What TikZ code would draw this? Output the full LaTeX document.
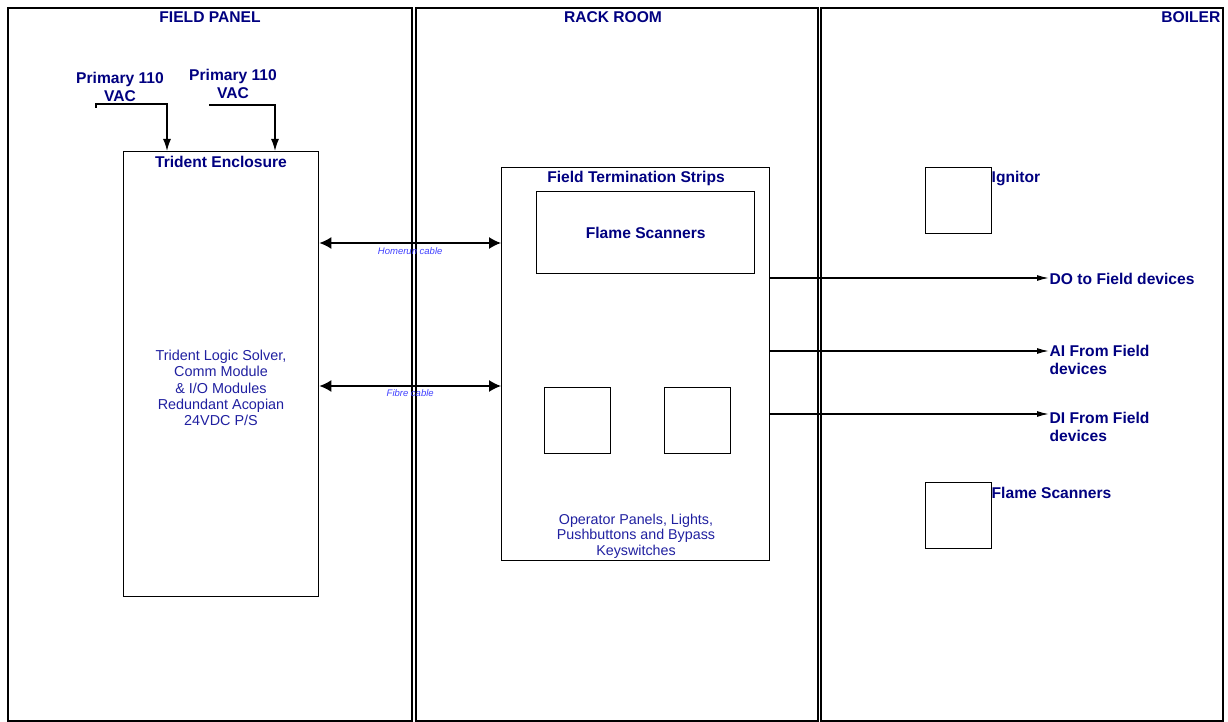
\documentclass[tikz,border=0pt]{standalone}
\usepackage{fontspec}
\setmainfont{Liberation Sans}
\usetikzlibrary{arrows.meta}
\definecolor{navy}{RGB}{0,0,128}
\definecolor{bodyblue}{RGB}{32,32,160}
\definecolor{cableblue}{RGB}{64,64,255}
\tikzset{
  panelbox/.style={draw,line width=1.6pt,anchor=north west,inner sep=0pt},
  unitbox/.style={draw,line width=1.4pt,anchor=north west,inner sep=0pt},
  heading/.style={text=navy,font=\fontsize{15.6}{18.5}\selectfont\bfseries,inner sep=0pt},
  bodytext/.style={text=bodyblue,font=\fontsize{14.4}{16.2}\selectfont,align=center,inner sep=0pt},
  cabletext/.style={text=cableblue,font=\fontsize{9.5}{11}\selectfont\itshape,inner sep=0pt},
  feedarrow/.style={-{Latex[length=12pt,width=8pt]}},
  cablearrow/.style={{Latex[length=12pt,width=12pt]}-{Latex[length=12pt,width=12pt]}},
  signalarrow/.style={-{Latex[length=12pt,width=6pt]}}
}
\begin{document}
\begin{tikzpicture}[x=1pt,y=-1pt,line width=1.4pt]
\useasboundingbox (0,0) rectangle (1228,722);
% three areas
\node[panelbox,minimum width=404pt,minimum height=713pt] (field) at (7,7) {};
\node[panelbox,minimum width=402pt,minimum height=713pt] (rack) at (415,7) {};
\node[panelbox,minimum width=402pt,minimum height=713pt] (boiler) at (820,7) {};
\node[heading] (fieldT) at (210,17) {FIELD PANEL};
\node[heading] (rackT) at (613,17) {RACK ROOM};
\node[heading,anchor=east] (boilerT) at (1221,17) {BOILER};

% field panel: enclosure and power feeds
\node[unitbox,minimum width=195pt,minimum height=445pt] (TE) at (123,151) {};
\node[heading] (TEtitle) at (221,162) {Trident Enclosure};
\node[bodytext] (TEbody) at (221,388)
  {Trident Logic Solver,\\Comm Module\\\& I/O Modules\\Redundant Acopian\\24VDC P/S};
\node[heading,align=center] (pri1) at (120,87) {Primary 110\\VAC};
\node[heading,align=center] (pri2) at (233,84) {Primary 110\\VAC};
\coordinate (feed1) at (167,104);
\coordinate (feed2) at (275,105);
\draw[feedarrow] (96,108) -- (96,104) -- (feed1) -- (feed1 |- TE.north);
\draw[feedarrow] (209,105) -- (feed2) -- (feed2 |- TE.north);

% rack room: termination strips
\node[unitbox,minimum width=268pt,minimum height=393pt] (FTS) at (501,167) {};
\node[heading] (FTStitle) at (636,178) {Field Termination Strips};
\node[unitbox,heading,minimum width=218pt,minimum height=82pt] (FS) at (536,191) {Flame Scanners};
\foreach \px/\nm in {544/opA,664/opB}
  \node[unitbox,minimum size=66pt] (\nm) at (\px,387) {};
\node[bodytext,font=\fontsize{14.3}{15.6}\selectfont] (opT) at (636,536)
  {Operator Panels, Lights,\\Pushbuttons and Bypass\\Keyswitches};

% cables between enclosure and strips
\coordinate (hr) at (0,243);
\coordinate (fb) at (0,386);
\draw[cablearrow] (hr -| TE.east) -- (hr -| FTS.west)
  node[cabletext,midway,below=4pt] {Homerun cable};
\draw[cablearrow] (fb -| TE.east) -- (fb -| FTS.west)
  node[cabletext,midway,below=3pt] {Fibre cable};

% boiler devices
\node[unitbox,minimum size=66pt] (ign) at (925,167) {};
\node[heading,anchor=west] (ignT) at (991,179) {Ignitor};
\node[unitbox,minimum size=66pt] (fsb) at (925,482) {};
\node[heading,anchor=west] (fsbT) at (991,493) {Flame Scanners};

% field signals
\node[heading,anchor=west] (DO) at (1049,279) {DO to Field devices};
\node[heading,anchor=north west,align=left] (AI) at (1049,344) {AI From Field\\devices};
\node[heading,anchor=north west,align=left] (DI) at (1049,411) {DI From Field\\devices};
\coordinate (do) at (0,278);
\coordinate (ai) at (0,351);
\coordinate (di) at (0,414);
\draw[signalarrow] (do -| FTS.east) -- (do -| DO.west);
\draw[signalarrow] (ai -| FTS.east) -- (ai -| AI.west);
\draw[signalarrow] (di -| FTS.east) -- (di -| DI.west);
\end{tikzpicture}
\end{document}
